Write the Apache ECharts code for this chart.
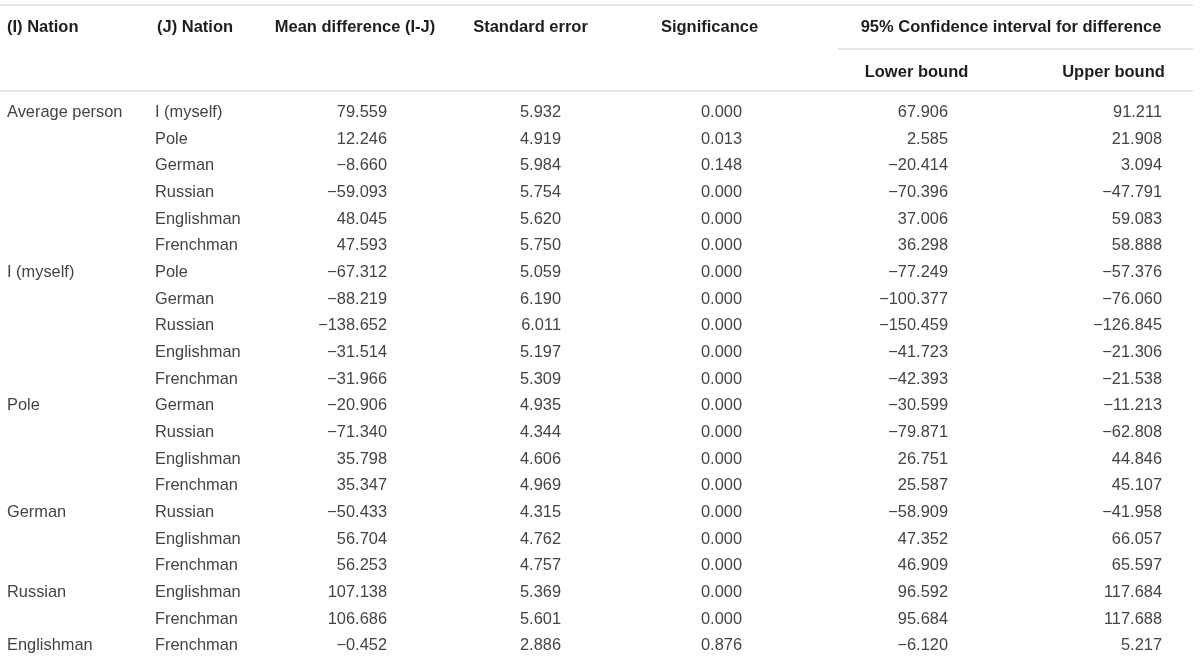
<!DOCTYPE html>
<html>
<head>
	<meta charset="UTF-8">
	<title>Pairwise comparisons</title>
	<script src="https://cdn.jsdelivr.net/npm/echarts@6/dist/echarts.min.js"></script>
	<style>
		html, body { margin: 0; padding: 0; background: #fff; }
	</style>
</head>
<body>
	<div id="chart1" style="width: 1200px;height: 661px;"></div>
</body>
</html>
<script type="text/javascript">
	// table data, one array per column
	var iNation = ['Average person', '', '', '', '', '', 'I (myself)', '', '', '', '', 'Pole', '', '', '', 'German', '', '', 'Russian', '', 'Englishman'];
	var jNation = ['I (myself)', 'Pole', 'German', 'Russian', 'Englishman', 'Frenchman',
		'Pole', 'German', 'Russian', 'Englishman', 'Frenchman',
		'German', 'Russian', 'Englishman', 'Frenchman',
		'Russian', 'Englishman', 'Frenchman',
		'Englishman', 'Frenchman',
		'Frenchman'];
	var meanDiff = [79.559, 12.246, -8.660, -59.093, 48.045, 47.593,
		-67.312, -88.219, -138.652, -31.514, -31.966,
		-20.906, -71.340, 35.798, 35.347,
		-50.433, 56.704, 56.253,
		107.138, 106.686,
		-0.452];
	var stdError = [5.932, 4.919, 5.984, 5.754, 5.620, 5.750,
		5.059, 6.190, 6.011, 5.197, 5.309,
		4.935, 4.344, 4.606, 4.969,
		4.315, 4.762, 4.757,
		5.369, 5.601,
		2.886];
	var significance = [0.000, 0.013, 0.148, 0.000, 0.000, 0.000,
		0.000, 0.000, 0.000, 0.000, 0.000,
		0.000, 0.000, 0.000, 0.000,
		0.000, 0.000, 0.000,
		0.000, 0.000,
		0.876];
	var lowerBound = [67.906, 2.585, -20.414, -70.396, 37.006, 36.298,
		-77.249, -100.377, -150.459, -41.723, -42.393,
		-30.599, -79.871, 26.751, 25.587,
		-58.909, 47.352, 46.909,
		96.592, 95.684,
		-6.120];
	var upperBound = [91.211, 21.908, 3.094, -47.791, 59.083, 58.888,
		-57.376, -76.060, -126.845, -21.306, -21.538,
		-11.213, -62.808, 44.846, 45.107,
		-41.958, 66.057, 65.597,
		117.684, 117.688,
		5.217];

	var fmt = function (v) {
		return v.toFixed(3).replace('-', '\u2212');
	};

	// where each column's text is anchored and how it is aligned
	var colX = [7, 155, 387, 561, 742, 948, 1162];
	var colAlign = ['left', 'left', 'right', 'right', 'right', 'right', 'right'];

	var rowNames = [];
	var cells = [];
	for (var r = 0; r < jNation.length; r++) {
		rowNames.push('r' + r);
		var texts = [iNation[r], jNation[r], fmt(meanDiff[r]), fmt(stdError[r]),
			fmt(significance[r]), fmt(lowerBound[r]), fmt(upperBound[r])];
		for (var c = 0; c < texts.length; c++) {
			if (texts[c] !== '') cells.push([c, r, texts[c]]);
		}
	}

	var bodyFont = { fontFamily: 'Liberation Sans', fontSize: 16.4, fill: '#444' };
	var headFont = { fontFamily: 'Liberation Sans', fontSize: 16.5, fontWeight: 'bold', fill: '#1e1e1e' };

	function head(text, x, y, align) {
		return {
			type: 'text', x: x, y: y,
			style: Object.assign({ text: text, align: align, verticalAlign: 'middle' }, headFont)
		};
	}
	function rule(x1, x2, y) {
		return {
			type: 'line',
			shape: { x1: x1, y1: y, x2: x2, y2: y },
			style: { stroke: '#dddddd', lineWidth: 1.6 }
		};
	}

	var chart1 = echarts.init(document.getElementById('chart1'));
	var option = {
		animation: false,
		backgroundColor: '#fff',
		grid: { left: 0, right: 0, top: 99, bottom: 2 },
		xAxis: { type: 'value', min: 0, max: 1200, show: false },
		yAxis: { type: 'category', data: rowNames, inverse: true, show: false },
		graphic: [
			rule(0, 1193, 5),
			rule(838, 1193, 49),
			rule(0, 1193, 91),
			head('(I) Nation', 7, 27, 'left'),
			head('(J) Nation', 157, 27, 'left'),
			head('Mean difference (I-J)', 355, 27, 'center'),
			head('Standard error', 530.5, 27, 'center'),
			head('Significance', 709.5, 27, 'center'),
			head('95% Confidence interval for difference', 1011, 27, 'center'),
			head('Lower bound', 916.5, 72, 'center'),
			head('Upper bound', 1113.5, 72, 'center')
		],
		series: [{
			type: 'custom',
			data: cells,
			encode: { x: 0, y: 1 },
			renderItem: function (params, api) {
				var c = api.value(0);
				var pt = api.coord([colX[c], api.value(1)]);
				return {
					type: 'text',
					x: pt[0],
					y: pt[1],
					style: Object.assign({
						text: cells[params.dataIndex][2],
						align: colAlign[c],
						verticalAlign: 'middle'
					}, bodyFont)
				};
			}
		}]
	};
	chart1.setOption(option);
</script>
